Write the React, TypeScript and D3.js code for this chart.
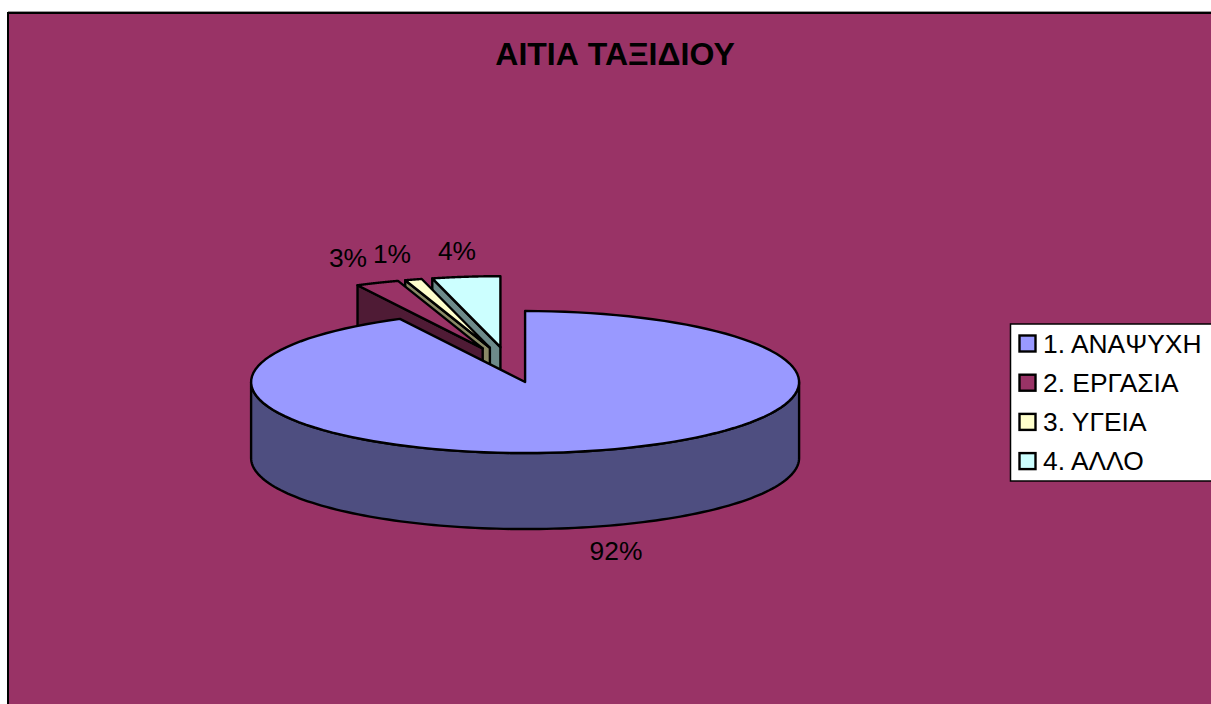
import React from "react";
import * as d3 from "d3";

const categories = ["1. ΑΝΑΨΥΧΗ", "2. ΕΡΓΑΣΙΑ", "3. ΥΓΕΙΑ", "4. ΑΛΛΟ"];
const shares = [0.9245, 0.0255, 0.01, 0.04];
const topColors = ["#9999ff", "#993366", "#ffffcc", "#ccffff"];
const wallColors = ["#4e4e80", "#4f1b35", "#8a8a66", "#6d8a8a"];
const explodedBy = [68.5, 68.5, 68.5, 68.5];
const labelSpots: [number, number][] = [[616, 551], [348, 258], [392, 254], [457, 251]];

const W = 1211;
const H = 704;
const originX = 509;
const originY = 364.8;
const rx = 274;
const ry = 71;
const depth = 76;
const font = "'Liberation Sans', Arial, sans-serif";

const pieLayout = d3.pie<number>().sort(null).value((d) => d);
const arcs = pieLayout(shares);
const pct = d3.format(".0%");
const outline = d3.line<[number, number]>();

// Elliptical position of an angle measured clockwise from twelve o'clock
const onRim = (cx: number, cy: number, a: number): [number, number] => [
  cx + rx * Math.sin(a),
  cy - ry * Math.cos(a),
];

const rimPoints = (cx: number, cy: number, a0: number, a1: number) =>
  d3.range(0, 121).map((i) => onRim(cx, cy, a0 + ((a1 - a0) * i) / 120));

const slices = arcs.map((arc, i) => {
  const mid = (arc.startAngle + arc.endAngle) / 2;
  const cx = originX + explodedBy[i] * Math.sin(mid);
  const cy = originY - (explodedBy[i] * Math.cos(mid) * ry) / rx;
  return { i, cx, cy, a0: arc.startAngle, a1: arc.endAngle };
});

function Slice({ s }: { s: (typeof slices)[number] }) {
  const top: [number, number][] = [[s.cx, s.cy], ...rimPoints(s.cx, s.cy, s.a0, s.a1)];
  const isMain = s.i === 0;
  // The large slice shows its curved front; the small ones show their left cut face
  const wall: [number, number][] = isMain
    ? (() => {
        const rim = rimPoints(s.cx, s.cy, Math.PI / 2, (3 * Math.PI) / 2);
        return [...rim, ...rim.slice().reverse().map(([x, y]) => [x, y + depth] as [number, number])];
      })()
    : (() => {
        const p = onRim(s.cx, s.cy, s.a0);
        return [
          p,
          [s.cx, s.cy],
          [s.cx, s.cy + depth],
          [p[0], p[1] + depth],
        ] as [number, number][];
      })();
  return (
    <g stroke="#000" strokeWidth={2.4} strokeLinejoin="round">
      <path d={outline(wall) + "Z"} fill={wallColors[s.i]} />
      <path d={outline(top) + "Z"} fill={topColors[s.i]} />
    </g>
  );
}

export default function App() {
  // Painted back to front, so each slice hides most of the cut face behind it
  const drawOrder = [slices[3], slices[2], slices[1], slices[0]];
  return (
    <svg
      width={W}
      height={H}
      style={{ position: "fixed", left: 0, top: 0, display: "block", background: "#fff" }}
    >
      <line x1={8} x2={W} y1={11.5} y2={11.5} stroke="#999" strokeWidth={1} />
      <rect x={8} y={13} width={W + 20} height={H + 20} fill="#993366" stroke="#000" strokeWidth={2} />
      <text
        x={615}
        y={65}
        textAnchor="middle"
        fontFamily={font}
        fontWeight="bold"
        fontSize={32}
        fill="#000"
      >
        ΑΙΤΙΑ ΤΑΞΙΔΙΟΥ
      </text>
      {drawOrder.map((s) => (
        <Slice key={s.i} s={s} />
      ))}
      {shares.map((v, i) => (
        <text
          key={i}
          x={labelSpots[i][0]}
          y={labelSpots[i][1] + 9}
          textAnchor="middle"
          fontFamily={font}
          fontSize={26.4}
          fill="#000"
        >
          {pct(v)}
        </text>
      ))}
      <rect x={1010.5} y={324} width={W} height={157} fill="#fff" stroke="#000" strokeWidth={1.5} />
      {categories.map((c, i) => {
        const y = 343.5 + i * 39.2;
        return (
          <g key={c}>
            <rect x={1019.5} y={y - 8} width={16} height={16} fill={topColors[i]} stroke="#000" strokeWidth={2.4} />
            <text x={1043} y={y + 9} fontFamily={font} fontSize={26.4} fill="#000">
              {c}
            </text>
          </g>
        );
      })}
    </svg>
  );
}
